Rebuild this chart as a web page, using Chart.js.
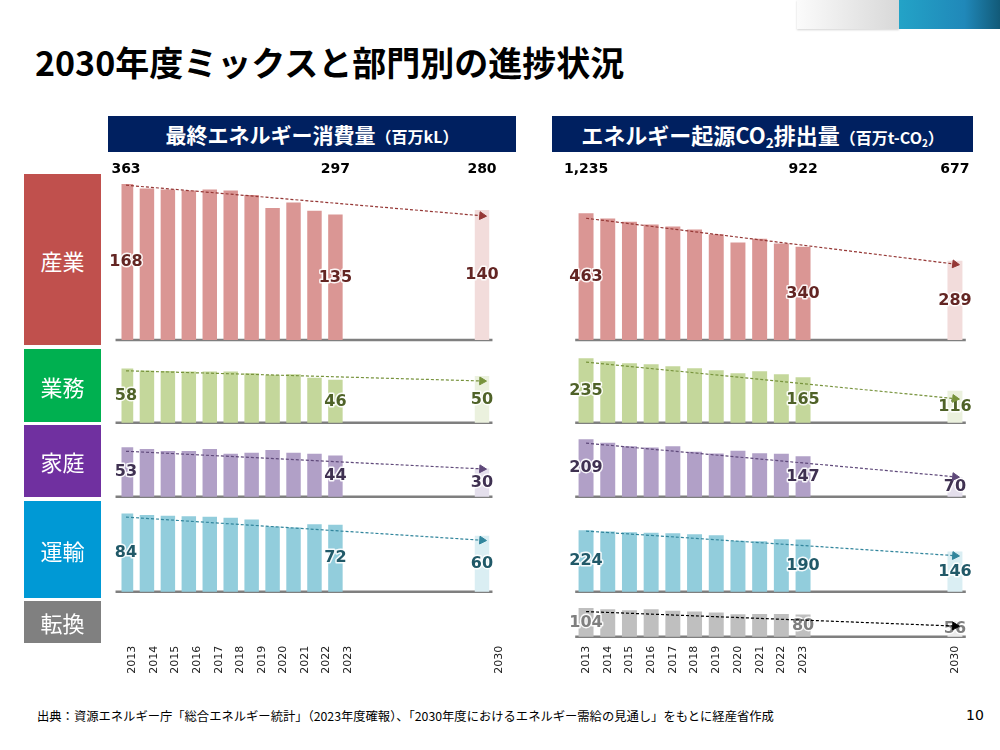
<!DOCTYPE html>
<html lang="ja">
<head>
<meta charset="utf-8">
<title>2030年度ミックスと部門別の進捗状況</title>
<script src="https://cdn.jsdelivr.net/npm/chart.js@4/dist/chart.umd.min.js"></script>
<style>
  html, body { margin: 0; padding: 0; background: #fff; }
  #page { position: relative; width: 1000px; height: 750px; overflow: hidden;
          font-family: "Noto Sans CJK JP", "Noto Sans", sans-serif; color: #000; }
  #page > * { position: absolute; }
  .deco-grey { left: 797px; top: 0; width: 102px; height: 29px;
               background: linear-gradient(to right, #fbfbfb, #d8d8d8); box-shadow: 0 1px 2px rgba(0,0,0,.18); }
  .deco-blue { left: 899px; top: 0; width: 101px; height: 29px;
               background: linear-gradient(to right, #23a3c7, #2088b9 65%, #125a78); }
  #title { left: 35px; top: 37px; font-size: 34px; font-weight: bold; line-height: 50px; white-space: nowrap; }
  .head { top: 116px; height: 36px; background: #002060; color: #fff; font-weight: bold; font-size: 21px;
          display: flex; align-items: center; justify-content: center; white-space: nowrap; }
  .head small { font-size: 16px; font-weight: bold; }
  .head sub { font-size: 62%; vertical-align: -0.3em; line-height: 0; }
  .sector { left: 24px; width: 77px; color: #fff; font-size: 22px;
            display: flex; align-items: center; justify-content: center; }
  #source { left: 37px; top: 707px; font-size: 12.3px; white-space: nowrap; }
  #pageNo { left: 966px; top: 707px; font-size: 14px; font-family: "DejaVu Sans", sans-serif; }
</style>
</head>
<body>
<div id="page">
  <div class="deco-grey"></div>
  <div class="deco-blue"></div>
  <div id="title">2030年度ミックスと部門別の進捗状況</div>
  <div class="head" style="left:108px; width:408px;"><span>最終エネルギー消費量<small>（百万kL）</small></span></div>
  <div class="head" style="left:552px; width:421px; font-size:22px;"><span>エネルギー起源CO<sub>2</sub>排出量<small>（百万t-CO<sub>2</sub>）</small></span></div>
  <canvas id="energyChart" width="430" height="550" style="left:100px; top:150px;"></canvas>
  <canvas id="co2Chart" width="440" height="550" style="left:555px; top:150px;"></canvas>
  <div id="source">出典：資源エネルギー庁「総合エネルギー統計」（2023年度確報）、「2030年度におけるエネルギー需給の見通し」をもとに経産省作成</div>
  <div id="pageNo">10</div>
</div>
<script>
// years that have values, and the full axis (2024-2029 left empty)
var years = ['2013', '2014', '2015', '2016', '2017', '2018', '2019', '2020', '2021', '2022', '2023', '2030'];
var axisYears = ['2013', '2014', '2015', '2016', '2017', '2018', '2019', '2020', '2021', '2022', '2023',
                 '2024', '2025', '2026', '2027', '2028', '2029', '2030'];
var labelledYears = ['2013', '2023', '2030'];
var sectors = ['産業', '業務', '家庭', '運輸', '転換'];

// 最終エネルギー消費量（百万kL）
var energyIndustry    = [168, 163, 162, 161, 162, 161, 156, 142, 148, 139, 135, 140];
var energyCommercial  = [58, 56, 55.5, 55, 55, 55, 53, 51.5, 52, 48, 46, 50];
var energyResidential = [53, 51, 49, 49, 51, 46, 47, 50, 47, 46, 44, 30];
var energyTransport   = [84, 82.5, 81.5, 81, 80.5, 79.5, 77.5, 70, 69, 72.5, 72, 60];
var energyTotals      = [363, 297, 280];
// dashed trend arrows: [2013, 2030]
var energyTrends = [[167, 134], [56, 45], [49, 30], [80.5, 55.5], null];

// エネルギー起源CO2排出量（百万t-CO2）
var co2Industry    = [463, 444, 432, 422, 415, 404, 386, 356, 370, 352, 340, 289];
var co2Commercial  = [235, 224, 217, 213, 206, 198, 191, 180, 187, 176, 165, 116];
var co2Residential = [209, 196, 184, 179, 184, 163, 157, 167, 158, 156, 147, 70];
var co2Transport   = [224, 219, 217, 215, 213, 209, 206, 185, 184, 191, 190, 146];
var co2Conversion  = [104, 99, 96, 99, 94, 91, 87, 81, 82, 82, 80, 56];
var co2Totals      = [1235, 922, 677];
var co2Trends = [[446, 278], [222, 88], [196, 73], [222, 132], [92, 39]];

// styles / layout
var sectorStyle = [
    { box: '#c0504d', bar: '#da9694', light: '#f2dcdb', text: '#632523', trend: '#953735' },
    { box: '#00b050', bar: '#c4d79b', light: '#ebf1de', text: '#4f6228', trend: '#77933c' },
    { box: '#7030a0', bar: '#b1a0c7', light: '#e4dfec', text: '#3f3151', trend: '#5f497a' },
    { box: '#0099d5', bar: '#92cddc', light: '#daeef3', text: '#215968', trend: '#31859c' },
    { box: '#808080', bar: '#bfbfbf', light: '#ececec', text: '#7f7f7f', trend: '#000000' }
];
var sectorBoxes = [[174, 171], [349, 73], [425, 72], [501, 97], [601, 42]];
var rowHeights = [165, 82.7, 74, 95, 45];

var page = document.getElementById('page');
sectors.forEach(function (name, i) {
    var d = document.createElement('div');
    d.className = 'sector';
    d.textContent = name;
    d.style.top = sectorBoxes[i][0] + 'px';
    d.style.height = sectorBoxes[i][1] + 'px';
    d.style.background = sectorStyle[i].box;
    page.appendChild(d);
});

function makeMarks(totals, rowIds) {
    return {
        id: 'panelMarks',
        beforeDatasetsDraw: function (chart) {
            var ctx = chart.ctx, x = chart.scales.x;
            ctx.save();
            ctx.strokeStyle = '#7f7f7f';
            ctx.lineWidth = 2.5;
            rowIds.forEach(function (id) {
                var y = chart.scales[id].getPixelForValue(0);
                ctx.beginPath();
                ctx.moveTo(x.getPixelForValue(-0.5), y);
                ctx.lineTo(x.getPixelForValue(axisYears.length - 0.5), y);
                ctx.stroke();
            });
            ctx.restore();
        },
        afterDatasetDraw: function (chart, args) {
            var ds = chart.data.datasets[args.index];
            if (!ds.valueColor) return;
            var ctx = chart.ctx;
            ctx.save();
            ctx.font = 'bold 16px "DejaVu Sans"';
            ctx.textAlign = 'center';
            ctx.textBaseline = 'middle';
            ctx.lineJoin = 'round';
            ctx.lineWidth = 3;
            ctx.strokeStyle = 'rgba(255,255,255,0.9)';
            ctx.fillStyle = ds.valueColor;
            args.meta.data.forEach(function (bar, i) {
                if (labelledYears.indexOf(years[i]) < 0) return;
                var p = bar.getProps(['x', 'y', 'base'], true);
                var txt = String(ds.data[i].y);
                var ty = (p.y + p.base) / 2;
                ctx.strokeText(txt, p.x, ty);
                ctx.fillText(txt, p.x, ty);
            });
            ctx.restore();
        },
        afterDraw: function (chart) {
            var ctx = chart.ctx, x = chart.scales.x;
            ctx.save();
            ctx.font = 'bold 14px "DejaVu Sans"';
            ctx.fillStyle = '#000';
            ctx.textAlign = 'center';
            ctx.textBaseline = 'middle';
            totals.forEach(function (t, i) {
                var px = x.getPixelForValue(axisYears.indexOf(labelledYears[i]));
                ctx.fillText(t.toLocaleString('en-US'), px, chart.chartArea.top - 6);
            });
            ctx.restore();
        }
    };
}

function arrowAngle(c) {
    var ds = c.dataset, xs = c.chart.scales.x, ys = c.chart.scales[ds.yAxisID];
    var a = ds.data[0], b = ds.data[1];
    var dx = xs.getPixelForValue(b.x) - xs.getPixelForValue(a.x);
    var dy = ys.getPixelForValue(b.y) - ys.getPixelForValue(a.y);
    return 90 + Math.atan2(dy, dx) * 180 / Math.PI;
}

function buildPanel(canvasId, series, trends, totals, view) {
    var datasets = [];
    var rowIds = [];
    var scales = {
        x: { type: 'linear', display: false, offset: false, min: view.xMin, max: view.xMax },
        xl: {
            type: 'category', labels: axisYears, offset: true, position: 'bottom',
            grid: { display: false, drawTicks: false }, border: { display: false },
            ticks: {
                autoSkip: false, minRotation: 90, maxRotation: 90, padding: 9, color: '#222',
                font: { family: 'DejaVu Sans', size: 11 },
                callback: function (v, i) { return years.indexOf(axisYears[i]) >= 0 ? axisYears[i] : ''; }
            },
            afterFit: function (s) { s.height = 63.3; }
        }
    };
    sectors.forEach(function (name, i) {
        var id = 'y' + i;
        scales[id] = {
            type: 'linear', display: false, min: 0, max: rowHeights[i] / view.ppu,
            stack: 'rows', stackWeight: rowHeights[i], weight: sectors.length - i
        };
        if (!series[i]) return;
        rowIds.push(id);
        var st = sectorStyle[i];
        datasets.push({
            type: 'bar', label: name, xAxisID: 'x', yAxisID: id, grouped: false,
            data: years.map(function (yr, j) { return { x: axisYears.indexOf(yr), y: series[i][j] }; }),
            backgroundColor: years.map(function (yr) { return yr === '2030' ? st.light : st.bar; }),
            barThickness: view.barWidth,
            valueColor: st.text
        });
        datasets.push({
            type: 'line', label: name + ' trend', xAxisID: 'x', yAxisID: id, order: -1,
            data: [{ x: axisYears.indexOf('2013'), y: trends[i][0] }, { x: axisYears.indexOf('2030'), y: trends[i][1] }],
            borderColor: st.trend, borderWidth: 1.2, borderDash: [3, 2], fill: false,
            pointRadius: [0, 4.5], pointStyle: 'triangle', pointRotation: arrowAngle,
            pointBackgroundColor: st.trend, pointBorderColor: st.trend, pointBorderWidth: 1
        });
    });

    return new Chart(document.getElementById(canvasId), {
        type: 'bar',
        data: { datasets: datasets },
        options: {
            responsive: false,
            animation: false,
            layout: { padding: { left: view.padLeft, right: view.padRight, top: 25, bottom: 0 } },
            plugins: { legend: { display: false }, tooltip: { enabled: false } },
            scales: scales
        },
        plugins: [makeMarks(totals, rowIds)]
    });
}

buildPanel('energyChart',
    [energyIndustry, energyCommercial, energyResidential, energyTransport, null],
    energyTrends, energyTotals,
    { ppu: 0.927, xMin: -0.215, xMax: 18.342, barWidth: 13.8, padLeft: 21.5, padRight: 19.9 });

buildPanel('co2Chart',
    [co2Industry, co2Commercial, co2Residential, co2Transport, co2Conversion],
    co2Trends, co2Totals,
    { ppu: 0.273, xMin: -0.5, xMax: 17.5, barWidth: 14.3, padLeft: 20.2, padRight: 29.2 });
</script>
</body>
</html>
